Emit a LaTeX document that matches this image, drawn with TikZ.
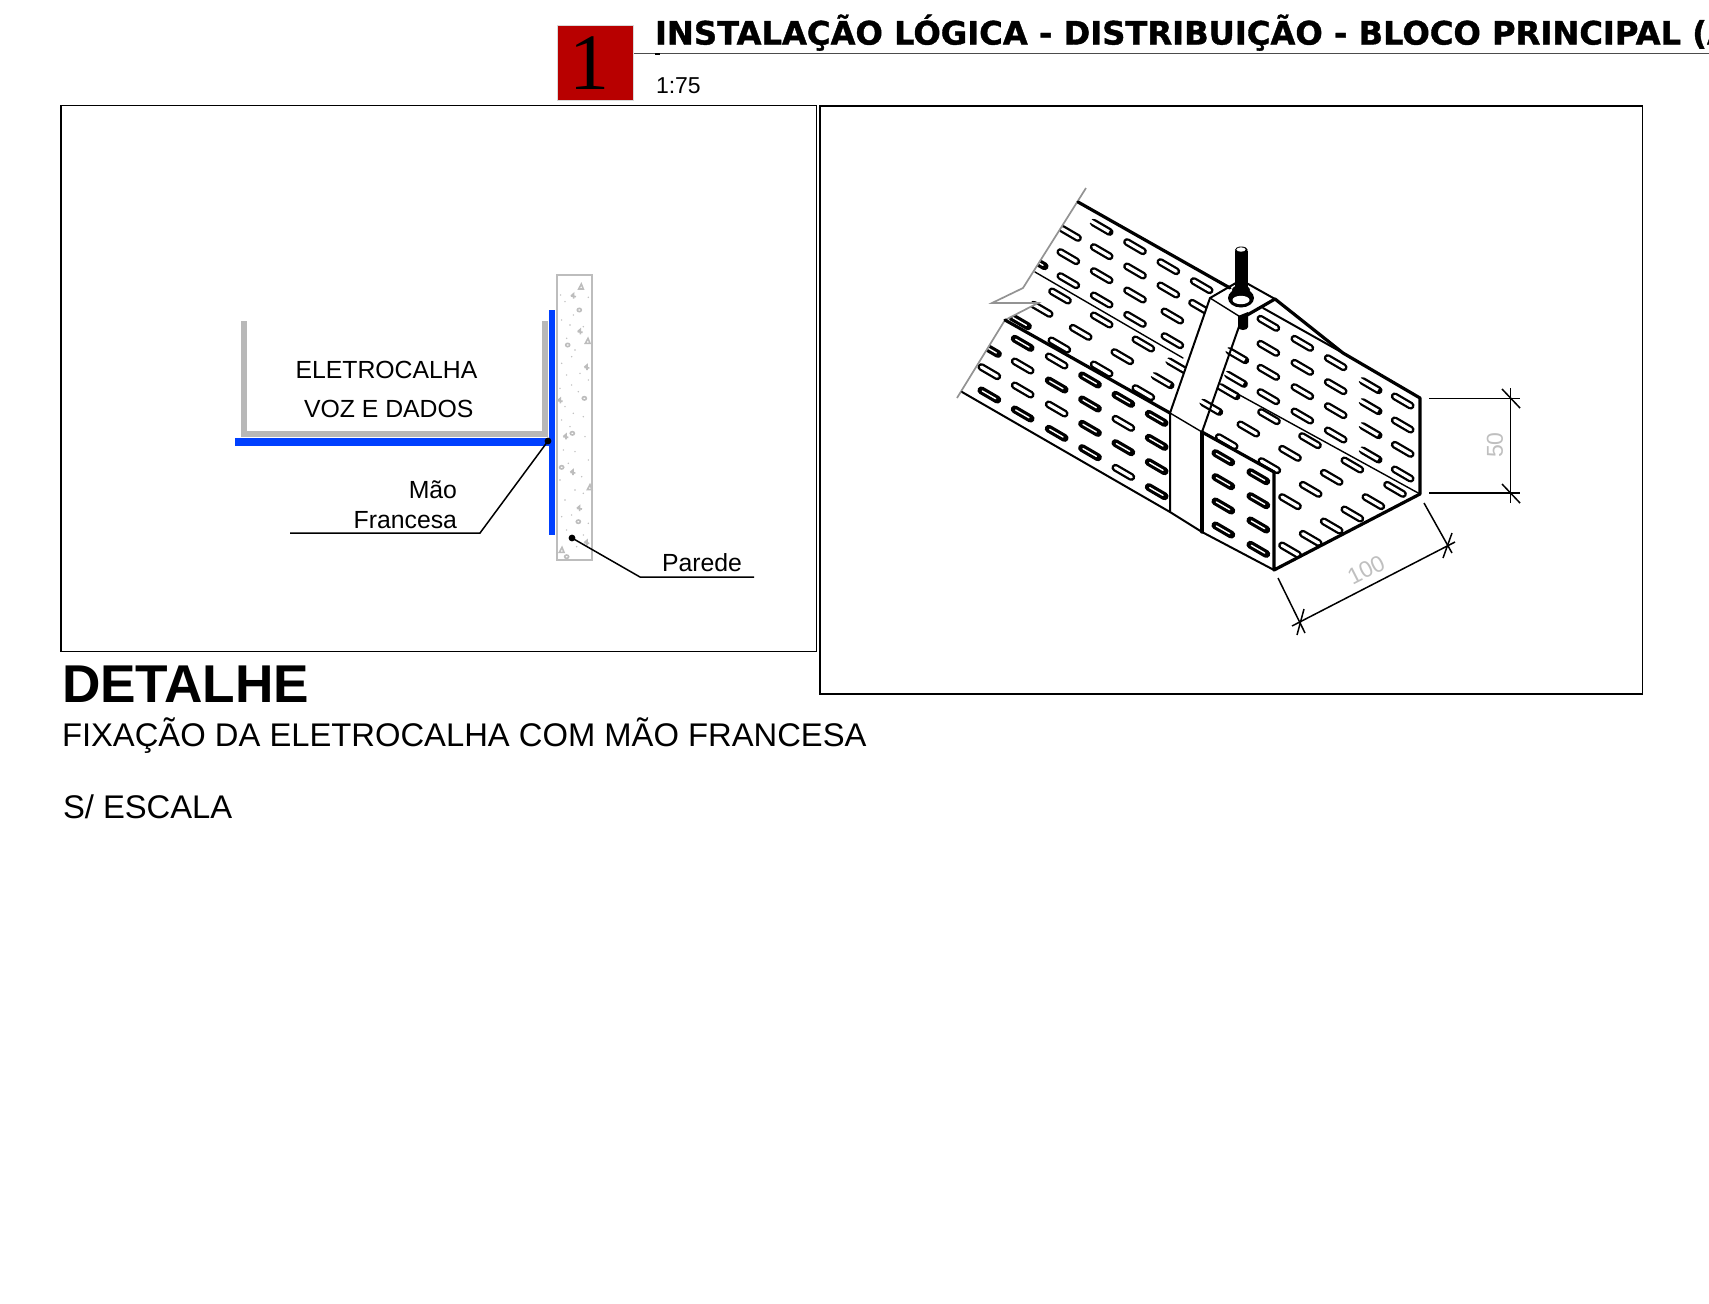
\documentclass[tikz,border=0pt]{standalone}
\usepackage{fontspec}
\setmainfont{Liberation Sans}
\newfontfamily\titlefont[BoldFeatures={FakeBold=1.2}]{DejaVu Sans}
\newfontfamily\numfont{Liberation Serif}
\usetikzlibrary{calc}
\definecolor{wallgrey}{HTML}{BDBDBD}
\definecolor{tray}{HTML}{B8B8B8}
\definecolor{blueiron}{HTML}{0040FF}
\definecolor{redbox}{HTML}{B80000}
\tikzset{
  txt/.style={inner sep=0pt,outer sep=0pt,anchor=base west,text=black},
  txtr/.style={inner sep=0pt,outer sep=0pt,anchor=base east,text=black},
  framebox/.style={draw=black,line width=.85pt,fill=none},
  thickedge/.style={draw=black,line width=1.6pt,line cap=round,line join=round},
  midedge/.style={draw=black,line width=1pt,line cap=round,line join=round},
  thinedge/.style={draw=black,line width=.7pt,line cap=round},
  breakline/.style={draw=gray!85,line width=.85pt,line join=miter},
  dimline/.style={draw=black,line width=.75pt},
  dimtext/.style={inner sep=0pt,text=black!25,font=\fontsize{11.5}{12}\selectfont},
  leaderline/.style={draw=black,line width=.75pt},
  leaderdot/.style={fill=black,circle,inner sep=0pt,minimum size=3.4pt},
  slotout/.style={draw=black,line width=3.9pt,line cap=round},
  slotin/.style={draw=white,line width=1.6pt,line cap=round},
  slotheavy/.style={draw=white,line width=.7pt,line cap=round},
  slotopen/.style={draw=white,line width=1.6pt,line cap=butt},
  texture/.style={draw=wallgrey,line width=.8pt},
}
% slots; coordinates are those of a 3x crop
\newcommand{\slotsN}[1]{\foreach \x/\y in {#1}{%
  \draw[slotout] (\x-24,\y-14) -- (\x+24,\y+14);
  \draw[slotin] (\x-24,\y-14) -- (\x+24,\y+14);}}
\newcommand{\slotsH}[1]{\foreach \x/\y in {#1}{%
  \draw[slotout] (\x-24,\y-14) -- (\x+24,\y+14);
  \draw[slotheavy] (\x-21,\y-12) -- (\x+19,\y+11);}}
\newcommand{\slotsL}[1]{\foreach \x/\y in {#1}{%
  \draw[slotout] (\x-24,\y-14) -- (\x+24,\y+14);
  \draw[slotopen] (\x-38,\y-22) -- (\x+22,\y+13);}}
\newcommand{\tri}[2]{\draw[texture] (#1-7,#2+7) -- (#1+1,#2-8) -- (#1+7,#2+7) -- cycle;}
\newcommand{\mrk}[2]{\draw[texture] (#1-7,#2) -- (#1+1,#2-7) -- (#1+1,#2+8) (#1-7,#2) -- (#1+8,#2+2);}
\newcommand{\rnd}[2]{\draw[texture] (#1,#2) circle[x radius=6,y radius=5];}
\begin{document}
\begin{tikzpicture}[x=.5pt,y=-.5pt]
\useasboundingbox (0,0) rectangle (1709,1303);
\clip (0,0) rectangle (1709,1303);

% header
\fill[redbox,draw=black!15,line width=.9pt] (557.5,25.5) rectangle (633.5,100.5);
\node[txt,anchor=base,font=\numfont\fontsize{40}{40}\selectfont] (num) at (589,89) {1};
\coordinate (hruleA) at (634,53.5);
\coordinate (hruleB) at (1709,53.5);
\draw[black!70,line width=.6pt] (hruleA) -- (hruleB);
\fill[black] (655,53) rectangle (660,54.5);
\node[txt,font=\titlefont\bfseries\fontsize{16.1}{16}\selectfont] (title) at (655,44.5) {INSTALAÇÃO LÓGICA - DISTRIBUIÇÃO - BLOCO PRINCIPAL (A};
\node[txt,font=\fontsize{11.5}{12}\selectfont] (scale) at (656,93) {1:75};

% frames
\draw[framebox] (61,105.5) rectangle (816.5,651.5);
\draw[framebox] (820,106) rectangle (1642.5,694);

% bottom texts
\node[txt,font=\bfseries\fontsize{26.6}{27}\selectfont] (det) at (62,702) {DETALHE};
\node[txt,font=\fontsize{16.38}{17}\selectfont] (fix) at (62,746) {FIXAÇÃO DA ELETROCALHA COM MÃO FRANCESA};
\node[txt,font=\fontsize{16.38}{17}\selectfont] (esc) at (63,818) {S/ ESCALA};

% ---- section detail
\draw[wallgrey,line width=1pt,fill=white] (557,275) rectangle (592,560);
\begin{scope}[shift={(520,260)},x=.16667pt,y=-.16667pt]
  \tri{183}{80}\mrk{160}{108}\rnd{178}{150}\mrk{180}{215}\tri{203}{243}\rnd{143}{255}
  \mrk{200}{322}\rnd{193}{415}\mrk{120}{422}\mrk{137}{530}\rnd{157}{520}\rnd{125}{622}
  \mrk{158}{637}\tri{209}{682}\mrk{178}{745}\rnd{175}{785}\tri{125}{870}\rnd{140}{890}
  \mrk{200}{848}
  \foreach \x/\y in {122/105,135/125,205/112,160/165,125/180,150/195,140/235,190/200,
    165/270,125/310,155/290,180/340,140/345,205/360,155/375,120/385,175/395,135/440,
    160/460,190/470,125/480,150/500,195/530,130/570,165/575,205/600,145/610,185/650,
    120/660,165/690,190/700,135/720,125/770,155/765,205/790,140/810,190/825,170/860}
    {\fill[wallgrey] (\x,\y) circle[radius=2.4];}
\end{scope}
\draw[tray,line width=2.6pt] (244,321) -- (244,434) -- (545,434) -- (545,321);
\draw[blueiron,line width=4.2pt] (235,442) -- (550,442);
\draw[blueiron,line width=2.8pt] (552,310) -- (552,535);
\node[txt,font=\fontsize{12.4}{13}\selectfont] (ele) at (295.5,378) {ELETROCALHA};
\node[txt,font=\fontsize{12.4}{13}\selectfont] (voz) at (304,417) {VOZ E DADOS};
\node[txtr,font=\fontsize{12.4}{13}\selectfont] (mao) at (457,498) {Mão};
\node[txtr,font=\fontsize{12.4}{13}\selectfont] (fra) at (457,528) {Francesa};
\node[txt,font=\fontsize{12.4}{13}\selectfont] (par) at (662,571.5) {Parede};
\node[leaderdot] (dotA) at (548,441) {};
\node[leaderdot] (dotB) at (572,538) {};
\coordinate (la1) at (480,533);
\coordinate (la2) at (290,533);
\coordinate (lb1) at (640,577);
\coordinate (lb2) at (754,577);
\draw[leaderline] (dotA.center) -- (la1) -- (la2);
\draw[leaderline] (dotB.center) -- (lb1) -- (lb2);

% ---- isometric tray : slots clipped to the tray outline
\begin{scope}
  \clip (1086,188) -- (1228,288) -- (1275,299) -- (1343,353) -- (1420,398) -- (1420,494)
        -- (1274,570) -- (1202,532) -- (1170,512) -- (962,392) -- (1005,320) -- (1038,303)
        -- (992,303) -- (1023,288) -- cycle;
  \begin{scope}[shift={(940,170)},x=.16667pt,y=-.16667pt]
    \slotsN{385/260,385/332,485/245,485/317,485/390,585/230,585/303,585/375,585/448,
      685/290,685/360,697/438,697/512,785/347,780/412,360/378,305/418,485/450,422/487,
      358/525,610/522,547/560,485/597,610/668,390/190}
    \slotsL{485/172,712/588,668/632}
    \slotsH{290/275,240/455}
  \end{scope}
  \begin{scope}[shift={(950,340)},x=.16667pt,y=-.16667pt]
    \slotsN{118/95,218/78,218/150,320/63,320/207,520/250,520/397}
    \slotsH{120/28,118/165,218/10,218/222,320/135,320/280,420/120,420/192,420/265,420/338,
      520/178,520/323,620/235,620/307,620/380,620/455}
  \end{scope}
  \begin{scope}[shift={(1130,290)},x=.16667pt,y=-.16667pt]
    \slotsN{415/100,415/175,415/247,415/320,517/160,517/232,517/305,517/378,
      617/218,617/290,617/362,617/435,818/333,818/405,818/478,818/552,
      417/380,355/417,290/455,540/452,480/490,418/527,667/525,605/562,542/598,480/635,
      795/598,730/635,667/672,605/708,542/745,480/780}
    \slotsL{722/350,722/422,722/495,722/287}
    \slotsH{280/503,280/575,280/648,280/720,385/560,385/632,385/705,385/778}
  \end{scope}
\end{scope}

% clamp, white on the slots
\fill[white] (1210,298) -- (1241,280) -- (1275,299) -- (1242,318) -- (1202,432) -- (1202,532) -- (1170,512) -- (1170,413) -- cycle;
% parts of slots over the clamp edge
\begin{scope}[shift={(1130,290)},x=.16667pt,y=-.16667pt]
  \slotsL{322/197,318/268,296/305,244/352}
\end{scope}

% coordinates of the tray
\coordinate (bk0) at (1078,202);
\coordinate (bk1) at (1230,288);
\coordinate (fd0) at (1035,272);
\coordinate (fd1) at (1183,358);
\coordinate (fw0) at (1005,320);
\coordinate (clA) at (1170,413);
\coordinate (clB) at (1202,432);
\coordinate (clC) at (1170,512);
\coordinate (clD) at (1202,532);
\coordinate (fwb) at (962,392);
\coordinate (plL) at (1210,298);
\coordinate (plT) at (1241,280);
\coordinate (plR) at (1275,299);
\coordinate (plF) at (1242,318);
\coordinate (fwE) at (1274,472);
\coordinate (fwF) at (1274,570);
\coordinate (enT) at (1420,398);
\coordinate (enB) at (1420,494);
\coordinate (rkn) at (1343,353);
\coordinate (rin) at (1263,308);
\coordinate (rf0) at (1225,387);

% break line
\draw[breakline] (1086,188) -- (1023,288) -- (992,303) -- (1038,303) -- (1005,320) -- (957,398);

% edges
\draw[thickedge] (bk0) -- (bk1);
\draw[thinedge] (fd0) -- (fd1);
\draw[thinedge] (rf0) -- (enB);
\draw[thickedge] (fw0) -- (clA);
\draw[midedge] (fwb) -- (clC);
\draw[midedge] (plL) -- (clA) -- (clC) -- (clD);
\draw[thinedge] (clA) -- (clB);
\draw[midedge] (plF) -- (clB);
\draw[thickedge] (clB) -- (clD);
\draw[thickedge] (clB) -- (fwE) -- (fwF) -- (enB) -- (enT) -- (rkn) -- (plR) -- (plF);
\draw[midedge] (clD) -- (fwF);
\draw[midedge] (rin) -- (rkn);
\draw[midedge] (plL) -- (plT) -- (plR);
\draw[thinedge] (plL) -- (plF);

% bolt
\fill[black] (1238,316) -- (1248,312) -- (1248,327) arc[start angle=0,end angle=180,x radius=5,y radius=3] -- cycle;
\fill[black] (1241,298) circle[x radius=13,y radius=9.5];
\fill[white] (1241,300) circle[x radius=8.5,y radius=4.2];
\fill[black] (1241,290) circle[x radius=9,y radius=5];
\fill[black] (1235,251) rectangle (1247.7,291);
\fill[black] (1241.3,250) circle[x radius=6.4,y radius=3.5];
\fill[white] (1241,249.5) circle[x radius=4.6,y radius=2.2];

% dimension 50
\coordinate (d50a) at (1429,398.3);
\coordinate (d50b) at (1520,398.3);
\coordinate (d50c) at (1429,493);
\coordinate (d50d) at (1520,493);
\coordinate (d50e) at (1510.7,388);
\coordinate (d50f) at (1510.7,503);
\draw[dimline] (d50a) -- (d50b);
\draw[dimline] (d50c) -- (d50d);
\draw[dimline] (d50e) -- (d50f);
\draw[dimline] (1502,389) -- (1520,408);
\draw[dimline] (1502,484) -- (1520,503);
\node[dimtext,rotate=90] (t50) at (1495,445) {50};

% dimension 100
\coordinate (d1a) at (1278,578);
\coordinate (d1b) at (1305,633);
\coordinate (d1c) at (1424,503);
\coordinate (d1d) at (1452,553);
\coordinate (d1e) at (1292,626);
\coordinate (d1f) at (1455,542);
\draw[dimline] (d1a) -- (d1b);
\draw[dimline] (d1c) -- (d1d);
\draw[dimline] (d1e) -- (d1f);
\draw[dimline] (1297,635) -- (1304,609);
\draw[dimline] (1443,558) -- (1452,533);
\node[dimtext,rotate=27] (t100) at (1366,570) {100};
\end{tikzpicture}
\end{document}
